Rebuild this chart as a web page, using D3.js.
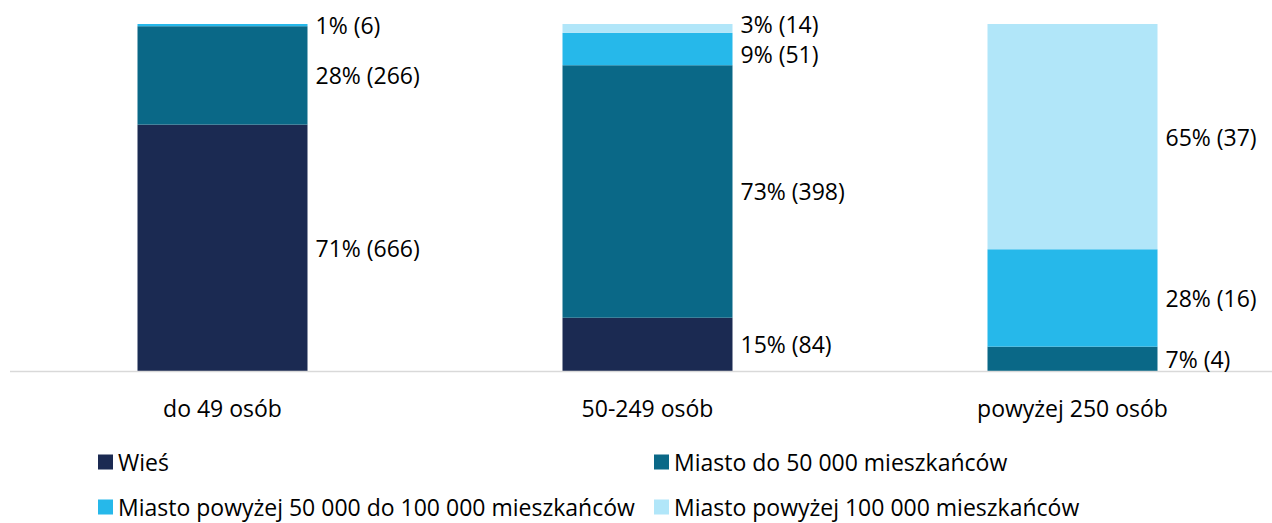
<!DOCTYPE html>
<html>
<head>
<meta charset="utf-8">
<script src="https://cdn.jsdelivr.net/npm/d3@7"></script>
<style>
  body { margin: 0; background: #fff; }
  text { font-family: "Open Sans", sans-serif; font-size: 23px; fill: #000; }
</style>
</head>
<body>
<div class="container"></div>
<script>
const WIDTH = 1272
	, HEIGHT = 523
	, TOP = 24
	, BASE = 371;

var categories = ['do 49 osób', '50-249 osób', 'powyżej 250 osób'];
var seriesNames = ['Wieś', 'Miasto do 50 000 mieszkańców',
	'Miasto powyżej 50 000 do 100 000 mieszkańców', 'Miasto powyżej 100 000 mieszkańców'];
var wies = [666, 84, 0];
var miastoDo50 = [266, 398, 4];
var miasto50do100 = [6, 51, 16];
var miastoPow100 = [0, 14, 37];
var colors = ['#1b2a52', '#0a6887', '#26b8ea', '#b1e6f9'];

var series = [wies, miastoDo50, miasto50do100, miastoPow100];

var translate = function (x, y) {
	return "translate(" + x + "," + y + ")";
};

var rows = categories.map(function (c, i) {
	var row = { cat: c, total: 0 };
	series.forEach(function (s, k) { row['s' + k] = s[i]; row.total += s[i]; });
	seriesNames.forEach(function (n, k) { row['p' + k] = row['s' + k] / row.total; });
	return row;
});

var svg = d3.select('.container').append('svg')
	.attr('width', WIDTH)
	.attr('height', HEIGHT);

var x = d3.scaleBand().domain(categories).range([10, 1285]).paddingInner(0.6).paddingOuter(0.3);
var y = d3.scaleLinear().domain([0, 1]).range([BASE, TOP]);

var stack = d3.stack().keys(seriesNames.map(function (n, k) { return 'p' + k; }));
var stacked = stack(rows);

var layers = svg.selectAll('.layer').data(stacked).enter().append('g')
	.attr('fill', function (d, k) { return colors[k]; });

layers.selectAll('rect').data(function (d) { return d; }).enter().append('rect')
	.attr('x', function (d) { return x(d.data.cat); })
	.attr('width', x.bandwidth())
	.attr('y', function (d) { return y(d[1]); })
	.attr('height', function (d) { return y(d[0]) - y(d[1]); });

// axis line + category labels
svg.append('line')
	.attr('x1', 10).attr('x2', WIDTH)
	.attr('y1', BASE + 0.5).attr('y2', BASE + 0.5)
	.attr('stroke', '#d9d9d9').attr('stroke-width', 1.5);

svg.selectAll('.cat').data(categories).enter().append('text')
	.attr('x', function (c) { return x(c) + x.bandwidth() / 2; })
	.attr('y', 408)
	.attr('text-anchor', 'middle')
	.attr('dominant-baseline', 'central')
	.text(function (c) { return c; });

// value labels, pushed apart where segments are thin
categories.forEach(function (c, i) {
	var labels = [];
	stacked.forEach(function (layer, k) {
		var d = layer[i];
		var count = series[k][i];
		if (count === 0) return;
		labels.push({
			y: (y(d[0]) + y(d[1])) / 2,
			text: Math.round(d.data['p' + k] * 100) + '% (' + count + ')'
		});
	});
	labels.sort(function (a, b) { return a.y - b.y; });
	for (var j = 1; j < labels.length; j++) {
		var gap = labels[j].y - labels[j - 1].y;
		if (gap < 30) {
			var push = (30 - gap) / 2;
			labels[j - 1].y -= push;
			labels[j].y += push;
		}
	}
	labels.forEach(function (l) { l.y = Math.max(l.y, 23.5); });
	svg.selectAll('.val' + i).data(labels).enter().append('text')
		.attr('x', x(c) + x.bandwidth() + 8)
		.attr('y', function (l) { return l.y; })
		.attr('dominant-baseline', 'central')
		.text(function (l) { return l.text; });
});

// legend
var legendPos = [[98, 462], [654, 462], [98, 507], [654, 507]];
var legend = svg.selectAll('.legend').data(seriesNames).enter().append('g')
	.attr('transform', function (n, k) { return translate(legendPos[k][0], legendPos[k][1]); });
legend.append('rect')
	.attr('x', 0).attr('y', -7.5).attr('width', 15).attr('height', 15)
	.attr('fill', function (n, k) { return colors[k]; });
legend.append('text')
	.attr('x', 20).attr('y', 0)
	.attr('dominant-baseline', 'central')
	.text(function (n) { return n; });
</script>
</body>
</html>
